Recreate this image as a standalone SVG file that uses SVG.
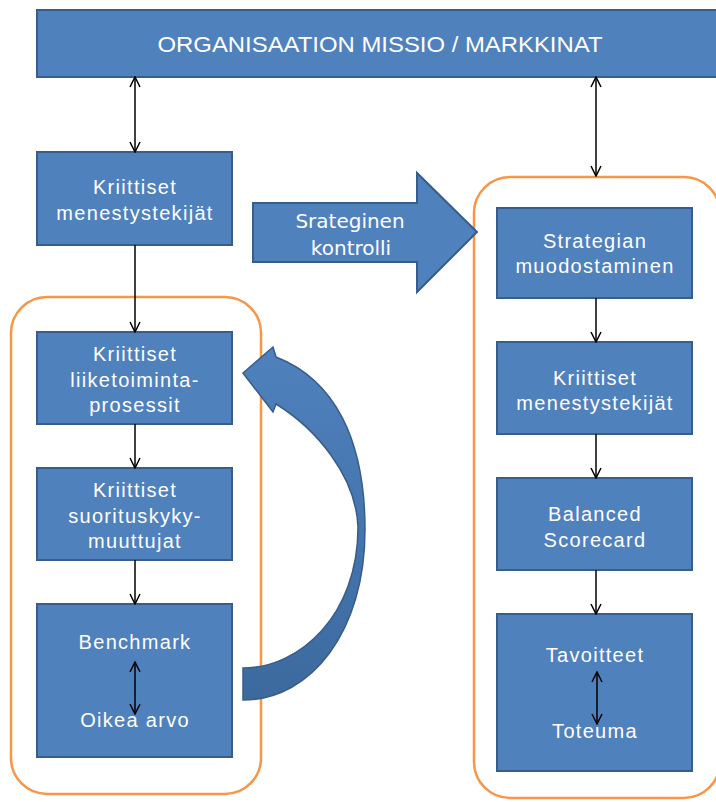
<svg xmlns="http://www.w3.org/2000/svg" width="716" height="802" viewBox="0 0 716 802">
<style>
.box{fill:#4F81BD;stroke:#385D8A;stroke-width:2}
.cont{fill:none;stroke:#F79646;stroke-width:2.5}
.t{font-family:"Liberation Sans",Arial,sans-serif;font-size:20px;fill:#ffffff;text-anchor:middle;letter-spacing:1.3px}
.c{stroke:#000;stroke-width:1.5;fill:none}
</style>
<defs>
<marker id="ah" viewBox="0 0 12 12" refX="11" refY="6" markerWidth="12" markerHeight="12" markerUnits="userSpaceOnUse" orient="auto-start-reverse">
<path d="M1,1 L11,6 L1,11" fill="none" stroke="#000" stroke-width="1.5"/>
</marker>
<linearGradient id="cg" x1="0" y1="0" x2="0" y2="1">
<stop offset="0" stop-color="#4F81BD"/>
<stop offset="1" stop-color="#3C6A9F"/>
</linearGradient>
</defs>
<rect width="716" height="802" fill="#ffffff"/>

<g id="containers">
<rect class="cont" x="11" y="297" width="250" height="497" rx="36"/>
<rect class="cont" x="474" y="177" width="246" height="621" rx="36"/>
</g>

<g id="mission">
<rect class="box" x="37" y="10" width="700" height="67"/>
<text x="380" y="52" font-family="'Liberation Sans',Arial,sans-serif" font-size="22" fill="#fff" textLength="445" lengthAdjust="spacingAndGlyphs" text-anchor="middle">ORGANISAATION  MISSIO / MARKKINAT</text>
</g>

<g id="l-menestys">
<rect class="box" x="37" y="152" width="195" height="93"/>
<text class="t" x="135" y="194">Kriittiset</text>
<text class="t" x="135" y="220">menestystekijät</text>
</g>

<g id="l-prosessit">
<rect class="box" x="37" y="332" width="195" height="92"/>
<text class="t" x="135" y="361">Kriittiset</text>
<text class="t" x="135" y="387">liiketoiminta-</text>
<text class="t" x="135" y="412">prosessit</text>
</g>

<g id="l-muuttujat">
<rect class="box" x="37" y="468" width="195" height="92"/>
<text class="t" x="135" y="497">Kriittiset</text>
<text class="t" x="135" y="523">suorituskyky-</text>
<text class="t" x="135" y="548">muuttujat</text>
</g>

<g id="l-benchmark">
<rect class="box" x="37" y="604" width="195" height="153"/>
<text class="t" x="135" y="649">Benchmark</text>
<text class="t" x="135" y="727">Oikea arvo</text>
</g>

<g id="r-strategia">
<rect class="box" x="497" y="208" width="195" height="90"/>
<text class="t" x="595" y="248">Strategian</text>
<text class="t" x="595" y="273">muodostaminen</text>
</g>

<g id="r-menestys">
<rect class="box" x="497" y="342" width="195" height="92"/>
<text class="t" x="595" y="385">Kriittiset</text>
<text class="t" x="595" y="410">menestystekijät</text>
</g>

<g id="r-bsc">
<rect class="box" x="497" y="478" width="195" height="92"/>
<text class="t" x="595" y="521">Balanced</text>
<text class="t" x="595" y="547">Scorecard</text>
</g>

<g id="r-tavoitteet">
<rect class="box" x="497" y="614" width="195" height="157"/>
<text class="t" x="595" y="662">Tavoitteet</text>
<text class="t" x="595" y="738">Toteuma</text>
</g>

<g id="strateginen-kontrolli">
<polygon class="box" points="253,203 417,203 417,173 477,232 417,292 417,262 253,262"/>
<text x="350" y="228" font-family="'DejaVu Sans',Verdana,sans-serif" font-size="20" fill="#fff" text-anchor="middle">Srateginen</text>
<text x="351" y="255" font-family="'DejaVu Sans',Verdana,sans-serif" font-size="20" fill="#fff" text-anchor="middle">kontrolli</text>
</g>

<g id="feedback-arrow">
<path d="M243,668 C300,668 358,615 358,527 C356,475 315,428 276,404 L273,412 L243,373 L273,347 L276,357 C335,380 365,440 365,530 C365,630 312,700 243,700 Z" fill="url(#cg)" stroke="#385D8A" stroke-width="1.5"/>
</g>

<g id="connectors">
<line class="c" x1="135" y1="77" x2="135" y2="152" marker-start="url(#ah)" marker-end="url(#ah)"/>
<line class="c" x1="596" y1="77" x2="596" y2="176" marker-start="url(#ah)" marker-end="url(#ah)"/>
<line class="c" x1="135" y1="245" x2="135" y2="332" marker-end="url(#ah)"/>
<line class="c" x1="135" y1="424" x2="135" y2="468" marker-end="url(#ah)"/>
<line class="c" x1="135" y1="560" x2="135" y2="604" marker-end="url(#ah)"/>
<line class="c" x1="135" y1="662" x2="135" y2="714" marker-start="url(#ah)" marker-end="url(#ah)"/>
<line class="c" x1="596" y1="298" x2="596" y2="342" marker-end="url(#ah)"/>
<line class="c" x1="596" y1="434" x2="596" y2="478" marker-end="url(#ah)"/>
<line class="c" x1="596" y1="570" x2="596" y2="614" marker-end="url(#ah)"/>
<line class="c" x1="597" y1="672" x2="597" y2="724" marker-start="url(#ah)" marker-end="url(#ah)"/>
</g>
</svg>
